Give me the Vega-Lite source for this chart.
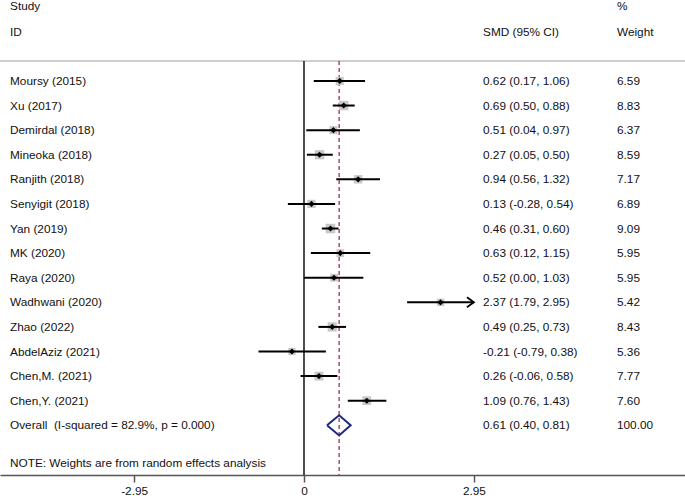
{
  "$schema": "https://vega.github.io/schema/vega-lite/v6.json",
  "width": 685,
  "height": 475,
  "autosize": "none",
  "padding": {"left": 0, "top": 0, "right": 0, "bottom": 24},
  "background": "white",
  "config": {
    "view": {"stroke": null},
    "text": {"font": "Liberation Sans", "fontSize": 11.8, "color": "#111111", "align": "left", "baseline": "middle"}
  },
  "datasets": {
    "studies": [
      {"study": "Moursy (2015)", "smd": 0.62, "lo": 0.17, "hi": 1.06, "est": "0.62 (0.17, 1.06)", "weight": 6.59, "wt": "6.59", "row": 0},
      {"study": "Xu (2017)", "smd": 0.69, "lo": 0.50, "hi": 0.88, "est": "0.69 (0.50, 0.88)", "weight": 8.83, "wt": "8.83", "row": 1},
      {"study": "Demirdal (2018)", "smd": 0.51, "lo": 0.04, "hi": 0.97, "est": "0.51 (0.04, 0.97)", "weight": 6.37, "wt": "6.37", "row": 2},
      {"study": "Mineoka (2018)", "smd": 0.27, "lo": 0.05, "hi": 0.50, "est": "0.27 (0.05, 0.50)", "weight": 8.59, "wt": "8.59", "row": 3},
      {"study": "Ranjith (2018)", "smd": 0.94, "lo": 0.56, "hi": 1.32, "est": "0.94 (0.56, 1.32)", "weight": 7.17, "wt": "7.17", "row": 4},
      {"study": "Senyigit (2018)", "smd": 0.13, "lo": -0.28, "hi": 0.54, "est": "0.13 (-0.28, 0.54)", "weight": 6.89, "wt": "6.89", "row": 5},
      {"study": "Yan (2019)", "smd": 0.46, "lo": 0.31, "hi": 0.60, "est": "0.46 (0.31, 0.60)", "weight": 9.09, "wt": "9.09", "row": 6},
      {"study": "MK (2020)", "smd": 0.63, "lo": 0.12, "hi": 1.15, "est": "0.63 (0.12, 1.15)", "weight": 5.95, "wt": "5.95", "row": 7},
      {"study": "Raya (2020)", "smd": 0.52, "lo": 0.00, "hi": 1.03, "est": "0.52 (0.00, 1.03)", "weight": 5.95, "wt": "5.95", "row": 8},
      {"study": "Wadhwani (2020)", "smd": 2.37, "lo": 1.79, "hi": 2.95, "est": "2.37 (1.79, 2.95)", "weight": 5.42, "wt": "5.42", "row": 9},
      {"study": "Zhao (2022)", "smd": 0.49, "lo": 0.25, "hi": 0.73, "est": "0.49 (0.25, 0.73)", "weight": 8.43, "wt": "8.43", "row": 10},
      {"study": "AbdelAziz (2021)", "smd": -0.21, "lo": -0.79, "hi": 0.38, "est": "-0.21 (-0.79, 0.38)", "weight": 5.36, "wt": "5.36", "row": 11},
      {"study": "Chen,M. (2021)", "smd": 0.26, "lo": -0.06, "hi": 0.58, "est": "0.26 (-0.06, 0.58)", "weight": 7.77, "wt": "7.77", "row": 12},
      {"study": "Chen,Y. (2021)", "smd": 1.09, "lo": 0.76, "hi": 1.43, "est": "1.09 (0.76, 1.43)", "weight": 7.60, "wt": "7.60", "row": 13}
    ],
    "overall": [
      {"study": "Overall\u00a0\u00a0(I-squared = 82.9%, p = 0.000)", "est": "0.61 (0.40, 0.81)", "wt": "100.00", "row": 14}
    ],
    "diamond": [
      {"x": 0.40, "r": 14, "o": 0},
      {"x": 0.61, "r": 13.59, "o": 1},
      {"x": 0.81, "r": 14, "o": 2},
      {"x": 0.61, "r": 14.41, "o": 3},
      {"x": 0.40, "r": 14, "o": 4}
    ],
    "headers": [
      {"label": "Study", "col": "study", "r": -3.05},
      {"label": "ID", "col": "study", "r": -1.99},
      {"label": "SMD (95% CI)", "col": "est", "r": -1.99},
      {"label": "%", "col": "wt", "r": -3.05},
      {"label": "Weight", "col": "wt", "r": -1.99},
      {"label": "NOTE: Weights are from random effects analysis", "col": "study", "r": 15.53}
    ]
  },
  "layer": [
    {
      "data": {"values": [{}]},
      "mark": {"type": "rule", "color": "#cfcfcf", "strokeWidth": 1.8},
      "encoding": {
        "x": {"datum": -5.278, "type": "quantitative", "scale": {"domain": [-5.278, 6.615], "nice": false, "zero": false},
              "title": null,
              "axis": {"values": [-2.95, 0, 2.95], "labelExpr": "toString(datum.value)", "grid": false, "domainColor": "#555555", "domainWidth": 1.5, "tickColor": "#555555", "tickWidth": 1.5, "tickSize": 7, "labelFont": "Liberation Sans", "labelFontSize": 11.8, "labelColor": "#111111", "labelPadding": 3, "labelFlush": false}},
        "x2": {"datum": 6.615},
        "y": {"datum": -0.81, "type": "quantitative", "scale": {"domain": [-3.29, 16.02], "reverse": true, "nice": false, "zero": false}, "axis": null, "title": null}
      }
    },
    {
      "data": {"values": [{}]},
      "mark": {"type": "rule", "color": "#000000", "strokeWidth": 1.4},
      "encoding": {
        "x": {"datum": 0, "type": "quantitative", "title": null},
        "y": {"datum": -0.81, "type": "quantitative", "axis": null, "title": null},
        "y2": {"datum": 16.02}
      }
    },
    {
      "data": {"values": [{}]},
      "mark": {"type": "rule", "color": "#a03040", "strokeWidth": 1.3, "strokeDash": [4, 3]},
      "encoding": {
        "x": {"datum": 0.61, "type": "quantitative", "title": null},
        "y": {"datum": -0.81, "type": "quantitative", "axis": null, "title": null},
        "y2": {"datum": 16.02}
      }
    },
    {
      "data": {"name": "studies"},
      "mark": {"type": "point", "shape": "square", "filled": true, "color": "#c8c8c8", "opacity": 1},
      "encoding": {
        "x": {"field": "smd", "type": "quantitative", "title": null},
        "y": {"field": "row", "type": "quantitative", "axis": null, "title": null},
        "size": {"field": "weight", "type": "quantitative", "scale": {"type": "linear", "domain": [0, 10], "range": [0, 100]}, "legend": null}
      }
    },
    {
      "data": {"name": "studies"},
      "mark": {"type": "rule", "color": "#000000", "strokeWidth": 2},
      "encoding": {
        "x": {"field": "lo", "type": "quantitative", "title": null},
        "x2": {"field": "hi"},
        "y": {"field": "row", "type": "quantitative", "axis": null, "title": null}
      }
    },
    {
      "data": {"name": "studies"},
      "mark": {"type": "point", "shape": "diamond", "filled": true, "color": "#000000", "size": 38, "opacity": 1},
      "encoding": {
        "x": {"field": "smd", "type": "quantitative", "title": null},
        "y": {"field": "row", "type": "quantitative", "axis": null, "title": null}
      }
    },
    {
      "data": {"name": "studies"},
      "transform": [{"filter": "datum.hi >= 2.95"}],
      "mark": {"type": "point", "shape": "M-1.4,-1L0,0L-1.4,1", "filled": false, "stroke": "#000000", "strokeWidth": 1.8, "size": 100, "opacity": 1},
      "encoding": {
        "x": {"field": "hi", "type": "quantitative", "title": null},
        "y": {"field": "row", "type": "quantitative", "axis": null, "title": null}
      }
    },
    {
      "data": {"name": "diamond"},
      "mark": {"type": "line", "color": "#1c2a80", "strokeWidth": 2},
      "encoding": {
        "x": {"field": "x", "type": "quantitative", "title": null},
        "y": {"field": "r", "type": "quantitative", "axis": null, "title": null},
        "order": {"field": "o", "type": "quantitative"}
      }
    },
    {
      "data": {"name": "studies"},
      "mark": {"type": "text"},
      "encoding": {
        "x": {"datum": -5.104, "type": "quantitative", "title": null},
        "y": {"field": "row", "type": "quantitative", "axis": null, "title": null},
        "text": {"field": "study"}
      }
    },
    {
      "data": {"name": "studies"},
      "mark": {"type": "text"},
      "encoding": {
        "x": {"datum": 3.108, "type": "quantitative", "title": null},
        "y": {"field": "row", "type": "quantitative", "axis": null, "title": null},
        "text": {"field": "est"}
      }
    },
    {
      "data": {"name": "studies"},
      "mark": {"type": "text"},
      "encoding": {
        "x": {"datum": 5.434, "type": "quantitative", "title": null},
        "y": {"field": "row", "type": "quantitative", "axis": null, "title": null},
        "text": {"field": "wt"}
      }
    },
    {
      "data": {"name": "overall"},
      "mark": {"type": "text"},
      "encoding": {
        "x": {"datum": -5.104, "type": "quantitative", "title": null},
        "y": {"field": "row", "type": "quantitative", "axis": null, "title": null},
        "text": {"field": "study"}
      }
    },
    {
      "data": {"name": "overall"},
      "mark": {"type": "text"},
      "encoding": {
        "x": {"datum": 3.108, "type": "quantitative", "title": null},
        "y": {"field": "row", "type": "quantitative", "axis": null, "title": null},
        "text": {"field": "est"}
      }
    },
    {
      "data": {"name": "overall"},
      "mark": {"type": "text"},
      "encoding": {
        "x": {"datum": 5.434, "type": "quantitative", "title": null},
        "y": {"field": "row", "type": "quantitative", "axis": null, "title": null},
        "text": {"field": "wt"}
      }
    },
    {
      "data": {"name": "headers"},
      "transform": [{"filter": "datum.col == 'study'"}],
      "mark": {"type": "text"},
      "encoding": {
        "x": {"datum": -5.104, "type": "quantitative", "title": null},
        "y": {"field": "r", "type": "quantitative", "axis": null, "title": null},
        "text": {"field": "label"}
      }
    },
    {
      "data": {"name": "headers"},
      "transform": [{"filter": "datum.col == 'est'"}],
      "mark": {"type": "text"},
      "encoding": {
        "x": {"datum": 3.108, "type": "quantitative", "title": null},
        "y": {"field": "r", "type": "quantitative", "axis": null, "title": null},
        "text": {"field": "label"}
      }
    },
    {
      "data": {"name": "headers"},
      "transform": [{"filter": "datum.col == 'wt'"}],
      "mark": {"type": "text"},
      "encoding": {
        "x": {"datum": 5.434, "type": "quantitative", "title": null},
        "y": {"field": "r", "type": "quantitative", "axis": null, "title": null},
        "text": {"field": "label"}
      }
    }
  ]
}
